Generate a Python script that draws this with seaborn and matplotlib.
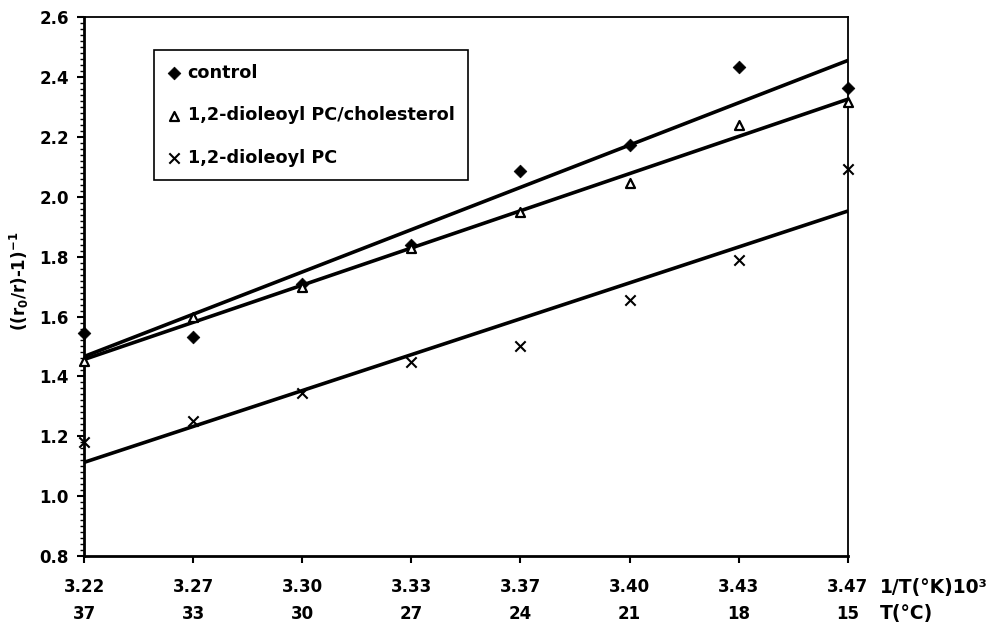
import numpy as np
import pandas as pd
import matplotlib.pyplot as plt
import seaborn as sns
from matplotlib.ticker import MultipleLocator, FormatStrFormatter

# x categories (drawn evenly spaced, as in the original figure)
inv_temp_labels = ["3.22", "3.27", "3.30", "3.33", "3.37", "3.40", "3.43", "3.47"]
temp_c_labels = ["37", "33", "30", "27", "24", "21", "18", "15"]

# ((r0/r)-1)^-1 values
control = [1.546, 1.533, 1.71, 1.84, 2.087, 2.172, 2.433, 2.363]
dopc_chol = [1.45, 1.60, 1.70, 1.828, 1.948, 2.045, 2.239, 2.317]
dopc = [1.18, 1.25, 1.345, 1.447, 1.503, 1.656, 1.789, 2.091]

series_names = ["control", "1,2-dioleoyl PC/cholesterol", "1,2-dioleoyl PC"]

rows = []
for name, vals in zip(series_names, [control, dopc_chol, dopc]):
    for i, v in enumerate(vals):
        rows.append({"series": name, "pos": i, "value": v})
df = pd.DataFrame(rows)

sns.set_style("ticks")
plt.rcParams["font.family"] = ["DejaVu Sans"]
plt.rcParams["font.weight"] = "bold"
plt.rcParams["text.color"] = "black"
plt.rcParams["axes.labelcolor"] = "black"
plt.rcParams["mathtext.fontset"] = "dejavusans"
plt.rcParams["mathtext.default"] = "bf"

fig, ax = plt.subplots(figsize=(10.02, 6.25), dpi=100)
fig.subplots_adjust(left=0.084, right=0.846, bottom=0.110, top=0.973)

marker_styles = {
    "control": dict(marker="D", s=42, color="black", edgecolor="black", linewidth=0.5),
    "1,2-dioleoyl PC/cholesterol": dict(marker="^", s=42, color="white", edgecolor="black", linewidth=1.6),
    "1,2-dioleoyl PC": dict(marker="x", s=55, color="black", linewidth=1.5),
}

# fitted lines first, markers on top
for name in series_names:
    sub = df[df["series"] == name]
    sns.regplot(data=sub, x="pos", y="value", scatter=False, ci=None, color="black",
                line_kws=dict(lw=2.6, zorder=2), ax=ax)

for name in series_names:
    sub = df[df["series"] == name]
    sns.scatterplot(data=sub, x="pos", y="value", ax=ax, label=name, zorder=3,
                    clip_on=False, **marker_styles[name])

ax.set_xlim(0, 7)
ax.set_ylim(0.8, 2.6)
ax.set_xticks(range(len(inv_temp_labels)))
ax.set_xticklabels([a + "\n" + b for a, b in zip(inv_temp_labels, temp_c_labels)],
                   fontsize=12, fontweight="bold")
for lab in ax.get_xticklabels():
    lab.set_linespacing(1.62)

ax.yaxis.set_major_locator(MultipleLocator(0.2))
ax.yaxis.set_minor_locator(MultipleLocator(0.02))
ax.yaxis.set_major_formatter(FormatStrFormatter("%.1f"))
ax.tick_params(axis="y", which="major", direction="out", length=5, width=1.5,
               labelsize=12, pad=6, color="black", labelcolor="black")
ax.tick_params(axis="y", which="minor", direction="out", length=3, width=1.0, color="black")
ax.tick_params(axis="x", which="major", direction="out", length=5, width=1.5,
               labelsize=12, pad=11, color="black", labelcolor="black")

for side in ["left", "bottom"]:
    ax.spines[side].set_linewidth(2.0)
for side in ["top", "right"]:
    ax.spines[side].set_linewidth(1.3)
for side in ax.spines:
    ax.spines[side].set_color("black")

ax.set_xlabel("")
ax.set_ylabel(r"((r$_{0}$/r)-1)$^{-1}$", fontsize=12, fontweight="bold")
ax.yaxis.set_label_coords(-0.069, 0.51)

fig.text(0.878, 0.0608, "1/T(°K)10³", fontsize=13.5, fontweight="bold", va="center", ha="left")
fig.text(0.878, 0.0192, "T(°C)", fontsize=13.5, fontweight="bold", va="center", ha="left")

leg = ax.legend(loc="upper left", bbox_to_anchor=(0.0916, 0.938), borderaxespad=0,
                frameon=True, fancybox=False, framealpha=1, edgecolor="black",
                prop=dict(size=12.7, weight="bold"), labelspacing=1.4,
                handlelength=0.7, handletextpad=0.45, borderpad=0.75)
leg.get_frame().set_linewidth(1.2)
for t in leg.get_texts():
    t.set_color("black")

fig.savefig("out.png", dpi=100)
